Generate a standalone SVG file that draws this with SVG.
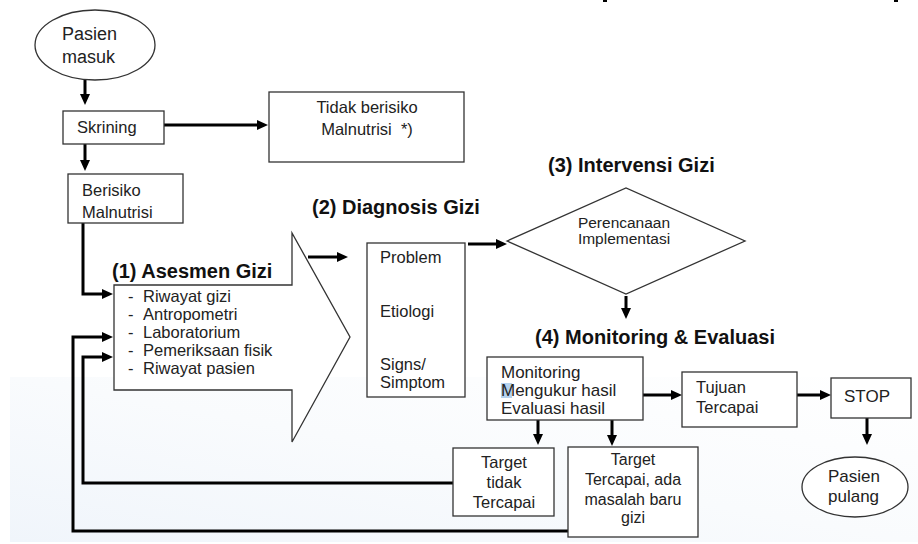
<svg xmlns="http://www.w3.org/2000/svg" width="918" height="544" viewBox="0 0 918 544">
<defs>
<linearGradient id="bg" x1="0" y1="1" x2="1" y2="0">
<stop offset="0" stop-color="#f0f5fb"/>
<stop offset="0.5" stop-color="#f9fbfd"/>
<stop offset="1" stop-color="#ffffff"/>
</linearGradient>
<marker id="ah" markerUnits="userSpaceOnUse" markerWidth="12" markerHeight="12" refX="2" refY="5" orient="auto">
<path d="M0,0 L11,5 L0,10 z" fill="#000"/>
</marker>
<style>
.box{fill:#fff;stroke:#333;stroke-width:1.3}
.t{font-family:"Liberation Sans",Arial,sans-serif;font-size:16.5px;fill:#222}
.s{font-size:15.5px}
.h{font-family:"Liberation Sans",Arial,sans-serif;font-size:20px;font-weight:bold;fill:#111}
.c{text-anchor:middle}
.con{fill:none;stroke:#000;stroke-width:3;marker-end:url(#ah)}
</style>
</defs>
<rect x="0" y="0" width="918" height="544" fill="#fff"/>
<rect x="10" y="377" width="908" height="165" fill="url(#bg)"/>
<rect x="603" y="0" width="4" height="2" fill="#000"/>
<rect x="894" y="0" width="4" height="2" fill="#000"/>

<g id="connectors">
<path class="con" d="M85,80 V96"/>
<path class="con" d="M164,125 H259"/>
<path class="con" d="M85,144 V162"/>
<path class="con" d="M83,223 V294 H104"/>
<path class="con" d="M568,531 H73 V337 H104"/>
<path class="con" d="M453,483 H83 V357 H104"/>
<path class="con" d="M308,257 H339"/>
<path class="con" d="M468,244 H498"/>
<path class="con" d="M626,296 V310"/>
<path class="con" d="M643,395 H673"/>
<path class="con" d="M797,395 H822"/>
<path class="con" d="M867,418 V436"/>
<path class="con" d="M538,420 V436"/>
<path class="con" d="M612,420 V437"/>
</g>

<g id="pasien-masuk">
<ellipse class="box" cx="95" cy="45" rx="60" ry="35"/>
<text class="t" x="62" y="40" style="font-size:18px">Pasien</text>
<text class="t" x="62" y="63" style="font-size:18px">masuk</text>
</g>

<g id="skrining">
<rect class="box" x="63" y="111" width="101" height="33"/>
<text class="t" x="77" y="133">Skrining</text>
</g>

<g id="tidak-berisiko">
<rect class="box" x="269" y="92" width="195" height="70"/>
<text class="t c" x="367" y="113">Tidak berisiko</text>
<text class="t c" x="367" y="135" xml:space="preserve">Malnutrisi  *)</text>
</g>

<g id="berisiko">
<rect class="box" x="68" y="174" width="115" height="49"/>
<text class="t" x="82" y="196">Berisiko</text>
<text class="t" x="82" y="218">Malnutrisi</text>
</g>

<g id="asesmen">
<polygon class="box" points="114,285 292,285 292,233 350,337 292,442 292,390 114,390"/>
<text class="h" x="112" y="278">(1) Asesmen Gizi</text>
<text class="t" x="128" y="302">-</text><text class="t" x="143" y="302">Riwayat gizi</text>
<text class="t" x="128" y="320">-</text><text class="t" x="143" y="320">Antropometri</text>
<text class="t" x="128" y="338">-</text><text class="t" x="143" y="338">Laboratorium</text>
<text class="t" x="128" y="356">-</text><text class="t" x="143" y="356">Pemeriksaan fisik</text>
<text class="t" x="128" y="374">-</text><text class="t" x="143" y="374">Riwayat pasien</text>
</g>

<g id="diagnosis">
<text class="h" x="312" y="214">(2) Diagnosis Gizi</text>
<rect class="box" x="367" y="243" width="98" height="154"/>
<text class="t" x="380" y="263">Problem</text>
<text class="t" x="380" y="317">Etiologi</text>
<text class="t" x="380" y="370">Signs/</text>
<text class="t" x="380" y="388">Simptom</text>
</g>

<g id="intervensi">
<text class="h" x="548" y="172">(3) Intervensi Gizi</text>
<polygon class="box" points="507,241 626,188 745,241 626,294"/>
<text class="t s c" x="624" y="228">Perencanaan</text>
<text class="t s c" x="624" y="244">Implementasi</text>
</g>

<g id="monitoring">
<text class="h" x="535" y="344">(4) Monitoring &amp; Evaluasi</text>
<rect class="box" x="487" y="357" width="156" height="63"/>
<rect x="501" y="383" width="11" height="15" fill="#b4d2ee"/>
<text class="t" x="501" y="378" style="font-size:17px">Monitoring</text>
<text class="t" x="501" y="396" style="font-size:17px">Mengukur hasil</text>
<text class="t" x="501" y="414" style="font-size:17px">Evaluasi hasil</text>
</g>

<g id="tujuan">
<rect class="box" x="682" y="372" width="115" height="55"/>
<text class="t" x="696" y="393">Tujuan</text>
<text class="t" x="696" y="413">Tercapai</text>
</g>

<g id="stop">
<rect class="box" x="831" y="378" width="80" height="40"/>
<text class="t" x="844" y="402" style="font-size:17px">STOP</text>
</g>

<g id="pasien-pulang">
<ellipse class="box" cx="855" cy="487" rx="53" ry="30"/>
<text class="t" x="828" y="482" style="font-size:17px">Pasien</text>
<text class="t" x="828" y="502" style="font-size:17px">pulang</text>
</g>

<g id="target-tidak">
<rect class="box" x="453" y="448" width="101" height="68"/>
<text class="t c" x="504" y="468">Target</text>
<text class="t c" x="504" y="488">tidak</text>
<text class="t c" x="504" y="508">Tercapai</text>
</g>

<g id="target-tercapai">
<rect class="box" x="568" y="447" width="130" height="90"/>
<text class="t c" x="633" y="465" style="font-size:16px">Target</text>
<text class="t c" x="633" y="485" style="font-size:16px">Tercapai, ada</text>
<text class="t c" x="633" y="505" style="font-size:16px">masalah baru</text>
<text class="t c" x="633" y="523" style="font-size:16px">gizi</text>
</g>
</svg>
